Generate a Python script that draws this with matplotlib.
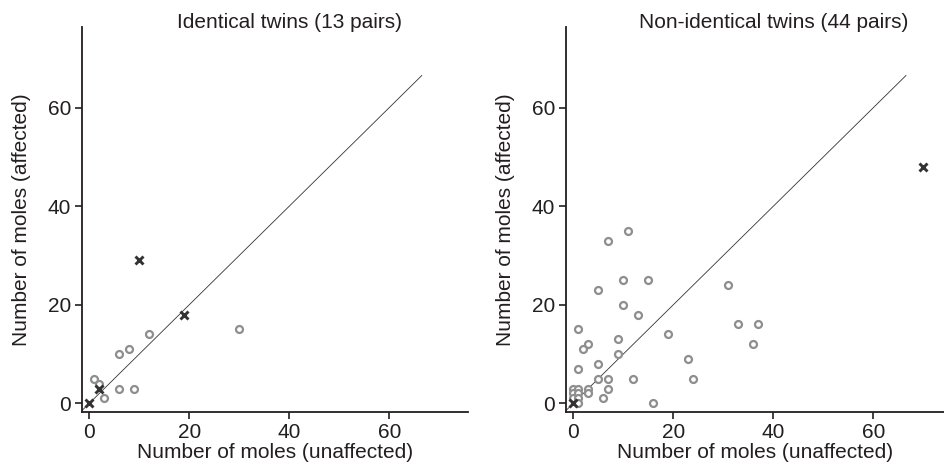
import matplotlib
matplotlib.use("Agg")
import matplotlib.pyplot as plt

# identical twins: (unaffected, affected)
mz_circle_x = [1, 2, 3, 6, 8, 6, 9, 12, 30]
mz_circle_y = [5, 4, 1, 10, 11, 3, 3, 14, 15]
mz_cross_x = [0, 2, 19, 10]
mz_cross_y = [0, 3, 18, 29]

# non-identical twins
dz_circle_x = [11, 7, 10, 15, 5, 10, 13, 31, 33, 1, 19, 9, 3, 2, 9, 23, 5, 1,
               5, 7, 12, 24, 7, 6, 16, 37, 36, 0, 1, 3, 0, 1, 3, 0, 1, 1]
dz_circle_y = [35, 33, 25, 25, 23, 20, 18, 24, 16, 15, 14, 13, 12, 11, 10, 9, 8, 7,
               5, 5, 5, 5, 3, 1, 0, 16, 12, 3, 3, 3, 2, 2, 2, 1, 1, 0]
dz_cross_x = [0, 70]
dz_cross_y = [0, 48]

identity_range = [-1.5, 66.5]
titles = ["Identical twins (13 pairs)", "Non-identical twins (44 pairs)"]
xlabel = "Number of moles (unaffected)"
ylabel = "Number of moles (affected)"
ticks = [0, 20, 40, 60]

plt.rcParams["font.family"] = ["Liberation Sans", "DejaVu Sans"]
plt.rcParams["font.size"] = 15

INK = "#231f20"
GREY = "#8e8e8e"


def draw_panel(ax, cx, cy, xx, xy, title, xmax):
    ax.plot(identity_range, identity_range, color="#333333", lw=0.6, zorder=1)
    ax.plot(cx, cy, "o", ms=5, mfc="white", mec=GREY, mew=1.6,
            linestyle="none", zorder=2, clip_on=False)
    ax.plot(xx, xy, "x", ms=5.5, mec="#333333", mew=2.1,
            linestyle="none", zorder=3, clip_on=False)
    ax.set_xlim(-1.46, xmax)
    ax.set_ylim(-1.7, 76.4)
    ax.set_xticks(ticks)
    ax.set_yticks(ticks)
    for side in ["top", "right"]:
        ax.spines[side].set_visible(False)
    for side in ["left", "bottom"]:
        ax.spines[side].set_linewidth(1.3)
        ax.spines[side].set_color(INK)
    ax.tick_params(direction="out", length=5, width=1.2, colors=INK,
                   labelsize=15, pad=3)
    ax.set_xlabel(xlabel, color=INK, labelpad=1)
    ax.set_ylabel(ylabel, color=INK, labelpad=12)
    ax.text(40, 77.3, title, ha="center", va="center", color=INK,
            fontsize=15, clip_on=False)


fig = plt.figure(figsize=(9.45, 4.73), dpi=100)
ax1 = fig.add_axes([82 / 945, 1 - 411.7 / 473, 386.3 / 945, 385 / 473])
ax2 = fig.add_axes([566 / 945, 1 - 411.7 / 473, 379 / 945, 385 / 473])

draw_panel(ax1, mz_circle_x, mz_circle_y, mz_cross_x, mz_cross_y, titles[0], 75.8)
draw_panel(ax2, dz_circle_x, dz_circle_y, dz_cross_x, dz_cross_y, titles[1], 74.3)

fig.savefig("out.png", dpi=100)
